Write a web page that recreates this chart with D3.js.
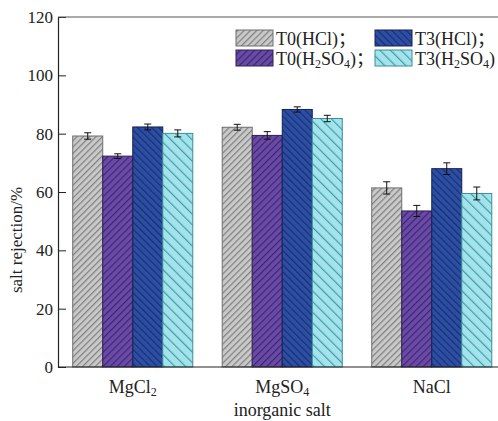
<!DOCTYPE html>
<html>
<head>
<meta charset="utf-8">
<script src="https://cdn.jsdelivr.net/npm/d3@7/dist/d3.min.js"></script>
<style>
  body { margin: 0; background: #fff; }
  svg text { font-family: "Liberation Serif", "DejaVu Serif", serif; fill: #222; }
</style>
</head>
<body>
<svg id="chart" width="498" height="421"></svg>
<script>
// categories and series
const salts = ["MgCl_2", "MgSO_4", "NaCl"];
const seriesNames = ["T0(HCl)；", "T0(H_2SO_4)；", "T3(HCl)；", "T3(H_2SO_4)"];
const t0HCl   = [79.2, 82.2, 61.4];
const t0H2SO4 = [72.3, 79.4, 53.5];
const t3HCl   = [82.3, 88.3, 68.0];
const t3H2SO4 = [80.1, 85.2, 59.5];
const t0HClErr   = [1.1, 1.0, 2.1];
const t0H2SO4Err = [0.8, 1.3, 1.9];
const t3HClErr   = [1.0, 0.9, 2.0];
const t3H2SO4Err = [1.2, 1.1, 2.2];
const yTicks = [0, 20, 40, 60, 80, 100, 120];

const seriesValues = [t0HCl, t0H2SO4, t3HCl, t3H2SO4];
const seriesErrors = [t0HClErr, t0H2SO4Err, t3HClErr, t3H2SO4Err];

// hatch styles per series: fill, line colour, spacing, angle
const hatch = [
    { fill: "#c9c9c9", line: "#808080", stroke: "#6e6e6e", gap: 4.5, angle: 45 },
    { fill: "#6a4aa6", line: "#3b2870", stroke: "#2f2050", gap: 5,   angle: 45 },
    { fill: "#2c4ea4", line: "#19306e", stroke: "#14234f", gap: 5,   angle: -45 },
    { fill: "#a4e3ec", line: "#3f9ea8", stroke: "#3b8f96", gap: 7.5, angle: -45 }
];

const svg = d3.select("#chart");
const plotLeft = 58, plotRight = 506.5, plotTop = 17, plotBottom = 367;

// Patterns
const defs = svg.append("defs");
hatch.forEach((h, i) => {
    const p = defs.append("pattern")
        .attr("id", "hatch" + i)
        .attr("patternUnits", "userSpaceOnUse")
        .attr("width", h.gap).attr("height", h.gap)
        .attr("patternTransform", `rotate(${h.angle})`);
    p.append("rect").attr("width", h.gap).attr("height", h.gap).attr("fill", h.fill);
    p.append("line")
        .attr("x1", 0.6).attr("y1", 0).attr("x2", 0.6).attr("y2", h.gap)
        .attr("stroke", h.line).attr("stroke-width", 1.2);
});

// write "_x" as subscript, full-width punctuation in a CJK SC face
function richText(sel, str, subSize) {
    const parts = str.split(/(_\d|；)/).filter(s => s.length);
    let shifted = false;
    parts.forEach(s => {
        if (s[0] === "_") {
            sel.append("tspan").attr("font-size", subSize).attr("dy", 3).text(s[1]);
            shifted = true;
        } else {
            const t = sel.append("tspan").text(s);
            if (s === "；") t.style("font-family", "'Noto Sans CJK SC'");
            if (shifted) { t.attr("dy", -3); shifted = false; }
        }
    });
}

const x0 = d3.scaleBand().domain(salts).range([plotLeft, plotRight]).paddingInner(0.197).paddingOuter(0.0985);
const x1 = d3.scaleBand().domain(d3.range(4)).range([0, x0.bandwidth()]);
const y = d3.scaleLinear().domain([0, 120]).range([plotBottom, plotTop]);

// Bars
const groups = svg.append("g").selectAll("g")
    .data(salts)
    .join("g")
    .attr("transform", d => `translate(${x0(d)},0)`);

groups.each(function(salt, si) {
    const g = d3.select(this);
    seriesValues.forEach((vals, k) => {
        const v = vals[si], e = seriesErrors[k][si];
        const bx = x1(k), bw = x1.bandwidth();
        g.append("rect")
            .attr("x", bx).attr("y", y(v))
            .attr("width", bw).attr("height", y(0) - y(v))
            .attr("fill", `url(#hatch${k})`)
            .attr("stroke", hatch[k].stroke).attr("stroke-width", 1);
        const cx = bx + bw / 2;
        g.append("line").attr("x1", cx).attr("x2", cx)
            .attr("y1", y(v + e)).attr("y2", y(v - e))
            .attr("stroke", "#111").attr("stroke-width", 1);
        [v + e, v - e].forEach(c => {
            g.append("line").attr("x1", cx - 3.5).attr("x2", cx + 3.5)
                .attr("y1", y(c)).attr("y2", y(c))
                .attr("stroke", "#111").attr("stroke-width", 1);
        });
    });
});

// Axes
const yAxis = svg.append("g")
    .attr("transform", `translate(${plotLeft},0)`)
    .call(d3.axisLeft(y).tickValues(yTicks).tickSize(-8).tickPadding(4));
yAxis.select(".domain").attr("stroke", "#222").attr("stroke-width", 1.2);
yAxis.selectAll(".tick line").attr("stroke", "#222");
yAxis.selectAll(".tick text").attr("font-size", 17).attr("fill", "#222")
    .attr("font-family", "Liberation Serif, serif").attr("x", -5);

svg.append("line").attr("x1", plotLeft).attr("x2", 498).attr("y1", plotBottom).attr("y2", plotBottom)
    .attr("stroke", "#222").attr("stroke-width", 1.2);
svg.append("line").attr("x1", plotLeft).attr("x2", 498).attr("y1", plotTop).attr("y2", plotTop)
    .attr("stroke", "#555").attr("stroke-width", 1);

// x category labels
salts.forEach(s => {
    const t = svg.append("text")
        .attr("x", x0(s) + x0.bandwidth() / 2).attr("y", 393)
        .attr("text-anchor", "middle").attr("font-size", 18);
    richText(t, s, 12);
});

svg.append("text")
    .attr("x", x0("MgSO_4") + x0.bandwidth() / 2).attr("y", 416)
    .attr("text-anchor", "middle").attr("font-size", 18)
    .text("inorganic salt");

svg.append("text")
    .attr("transform", "translate(22,240) rotate(-90)")
    .attr("text-anchor", "middle").attr("font-size", 17)
    .text("salt rejection/%");

// Legend: 2 columns x 2 rows
const legendPos = [[236, 30], [236, 50], [375, 30], [375, 50]];
seriesNames.forEach((name, k) => {
    const [lx, ly] = legendPos[k];
    svg.append("rect")
        .attr("x", lx).attr("y", ly).attr("width", 37).attr("height", 16)
        .attr("fill", `url(#hatch${k})`)
        .attr("stroke", hatch[k].stroke).attr("stroke-width", 1);
    const t = svg.append("text")
        .attr("x", lx + 40).attr("y", ly + 15)
        .attr("font-size", 18);
    richText(t, name, 12);
});
</script>
</body>
</html>
